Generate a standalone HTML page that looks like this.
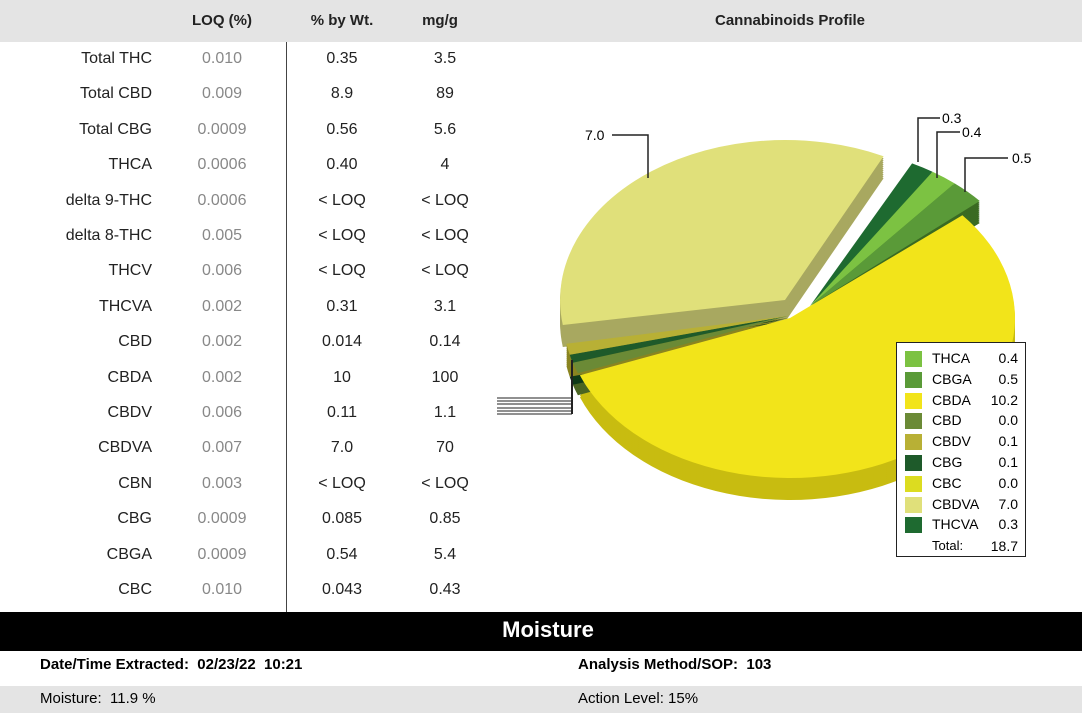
<!DOCTYPE html>
<html><head><meta charset="utf-8"><style>
body{margin:0;width:1082px;height:713px;overflow:hidden;background:#fff;font-family:"Liberation Sans",sans-serif;position:relative}
.a{position:absolute;white-space:nowrap}
.hd{font-weight:bold;font-size:15px;color:#222}
.r{font-size:16px;color:#222}
</style></head><body>
<div class="a" style="left:0;top:0;width:1082px;height:42px;background:#e4e4e4"></div>
<div class="a hd" style="left:182px;top:12px;width:80px;text-align:center">LOQ (%)</div>
<div class="a hd" style="left:302px;top:12px;width:80px;text-align:center">% by Wt.</div>
<div class="a hd" style="left:400px;top:12px;width:80px;text-align:center">mg/g</div>
<div class="a hd" style="left:640px;top:12px;width:300px;text-align:center">Cannabinoids Profile</div>
<div class="a" style="left:286px;top:42px;width:1px;height:570px;background:#444"></div>
<div id="tbl"></div>
<svg class="a" style="left:0;top:0" width="1082" height="713" id="sv"></svg>
<div class="a" style="left:0;top:612px;width:1082px;height:39px;background:#000"></div>
<div class="a" style="left:0;top:617px;width:1096px;text-align:center;color:#fff;font-weight:bold;font-size:22px">Moisture</div>
<div class="a" style="left:40px;top:656px;font-weight:bold;font-size:15px">Date/Time Extracted:&nbsp; 02/23/22&nbsp; 10:21</div>
<div class="a" style="left:578px;top:656px;font-weight:bold;font-size:15px">Analysis Method/SOP:&nbsp; 103</div>
<div class="a" style="left:0;top:686px;width:1082px;height:27px;background:#e4e4e4"></div>
<div class="a" style="left:40px;top:690px;font-size:15px">Moisture:&nbsp; 11.9 %</div>
<div class="a" style="left:578px;top:690px;font-size:15px">Action Level: 15%</div>
<div class="a" style="left:896px;top:342px;width:130px;height:215px;border:1.5px solid #222;background:#fff;box-sizing:border-box"></div>
<div id="leg"></div>
<script>
var rows=[["Total THC","0.010","0.35","3.5"],["Total CBD","0.009","8.9","89"],["Total CBG","0.0009","0.56","5.6"],["THCA","0.0006","0.40","4"],["delta 9-THC","0.0006","&lt; LOQ","&lt; LOQ"],["delta 8-THC","0.005","&lt; LOQ","&lt; LOQ"],["THCV","0.006","&lt; LOQ","&lt; LOQ"],["THCVA","0.002","0.31","3.1"],["CBD","0.002","0.014","0.14"],["CBDA","0.002","10","100"],["CBDV","0.006","0.11","1.1"],["CBDVA","0.007","7.0","70"],["CBN","0.003","&lt; LOQ","&lt; LOQ"],["CBG","0.0009","0.085","0.85"],["CBGA","0.0009","0.54","5.4"],["CBC","0.010","0.043","0.43"]];
var h="";rows.forEach(function(r,i){var y=50+i*35.4;
h+='<div class="a r" style="left:0;width:152px;text-align:right;top:'+y+'px">'+r[0]+'</div>';
h+='<div class="a r" style="left:172px;width:100px;text-align:center;color:#888;top:'+y+'px">'+r[1]+'</div>';
h+='<div class="a r" style="left:292px;width:100px;text-align:center;top:'+y+'px">'+r[2]+'</div>';
h+='<div class="a r" style="left:395px;width:100px;text-align:center;top:'+y+'px">'+r[3]+'</div>';});
document.getElementById('tbl').innerHTML=h;
var lg=[["#7cc242","THCA","0.4"],["#5a9a38","CBGA","0.5"],["#f2e41a","CBDA","10.2"],["#6b8a36","CBD","0.0"],["#b8b035","CBDV","0.1"],["#1e5a2a","CBG","0.1"],["#dcdc20","CBC","0.0"],["#e0e07a","CBDVA","7.0"],["#1e6a30","THCVA","0.3"]];
h="";lg.forEach(function(l,i){var y=350+i*20.8;
h+='<div class="a" style="left:905px;top:'+(y+1)+'px;width:17px;height:16px;background:'+l[0]+'"></div>';
h+='<div class="a" style="left:932px;top:'+y+'px;font-size:14px">'+l[1]+'</div>';
h+='<div class="a" style="left:990px;top:'+y+'px;font-size:14px;width:28px;text-align:right">'+l[2]+'</div>';});
h+='<div class="a" style="left:932px;top:538px;font-size:13px">Total:</div><div class="a" style="left:985px;top:538px;font-size:14px;width:33px;text-align:right">18.7</div>';
document.getElementById('leg').innerHTML=h;
var rx=225,ry=160,D=22,s="";
function pt(cx,cy,t){t=t*Math.PI/180;return [cx+rx*Math.cos(t),cy+ry*Math.sin(t)];}
function face(cx,cy,a0,a1){var p=pt(cx,cy,a0),q=pt(cx,cy,a1);var lf=(a1-a0)>180?1:0;
return 'M'+cx+','+cy+'L'+p[0].toFixed(1)+','+p[1].toFixed(1)+'A'+rx+','+ry+' 0 '+lf+' 1 '+q[0].toFixed(1)+','+q[1].toFixed(1)+'Z';}
var sl=[[785,300,171,296,"#e0e07a","#a8a860"],[810,306,-63,-57,"#1e6a30","#0f4a1e"],[810,306,-57,-50,"#7cc242","#4e8a2a"],[810,306,-50,-41,"#5a9a38","#3a6a22"],[790,318,-40,159,"#f2e41a","#c8bc10"],[788,316,159,163,"#6b8a36","#4a6522"],[788,316,163,166,"#1e5a2a","#0f3a18"],[788,316,166,170,"#b8b035","#8a8420"]];
sl.forEach(function(o){for(var d=D;d>0;d-=2)s+='<path d="'+face(o[0],o[1]+d,o[2],o[3])+'" fill="'+o[5]+'"/>';});
sl.forEach(function(o){s+='<path d="'+face(o[0],o[1],o[2],o[3])+'" fill="'+o[4]+'"/>';});
s+='<polyline points="612,135 648,135 648,178" fill="none" stroke="#222" stroke-width="1.5"/>';
s+='<polyline points="940,118 918,118 918,162" fill="none" stroke="#222" stroke-width="1.5"/>';
s+='<polyline points="960,132 937,132 937,178" fill="none" stroke="#222" stroke-width="1.5"/>';
s+='<polyline points="1008,158 965,158 965,192" fill="none" stroke="#222" stroke-width="1.5"/>';
s+='<text x="585" y="140" font-size="14" font-family="Liberation Sans">7.0</text>';
s+='<text x="942" y="123" font-size="14" font-family="Liberation Sans">0.3</text>';
s+='<text x="962" y="137" font-size="14" font-family="Liberation Sans">0.4</text>';
s+='<text x="1012" y="163" font-size="14" font-family="Liberation Sans">0.5</text>';
[398,401,404,408,411,414].forEach(function(y){s+='<line x1="497" y1="'+y+'" x2="572" y2="'+y+'" stroke="#222" stroke-width="1"/>';});
s+='<line x1="572" y1="360" x2="572" y2="414" stroke="#222" stroke-width="2"/>';
document.getElementById('sv').innerHTML=s;
</script>
</body></html>
